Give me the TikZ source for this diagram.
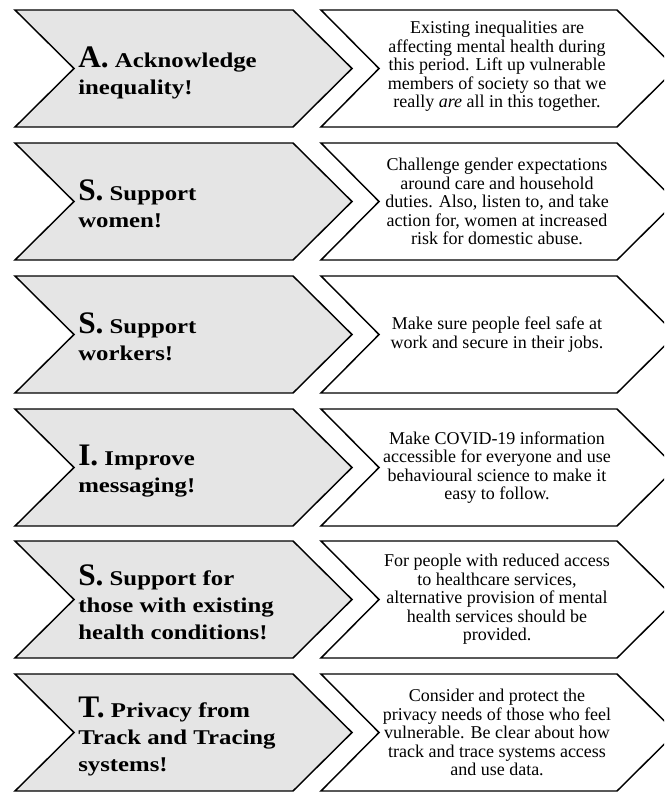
\documentclass[tikz,border=0pt]{standalone}
\usepackage{fontspec}
\setmainfont{Liberation Serif}
\newfontfamily\leftfont[FakeStretch=1.18]{Liberation Serif}
\newfontfamily\inifont{Liberation Serif}
\newcommand\bigini[1]{{\inifont\bfseries\fontsize{23.5}{20.25}\selectfont #1}}
\tikzset{
  greychev/.style={draw=black, line width=1.1pt, fill=gray!20, line join=miter},
  whitechev/.style={draw=black, line width=1.1pt, fill=white, line join=miter},
  lefttext/.style={anchor=base west, align=left, inner sep=0pt,
    font=\leftfont\bfseries\fontsize{15.75}{20.25}\selectfont},
  righttext/.style={anchor=center, align=center, inner sep=0pt,
    font=\fontsize{13.5}{13.9}\selectfont}
}
\newcommand\chevrow[2]{%
  \path[greychev] (15,#1) -- (293,#1) -- (352,#1+58.5) -- (293,#1+117) -- (15,#1+117) -- (74,#1+58.5) -- cycle;
  \path[whitechev] (321,#1) -- (617,#1) -- (676,#1+58.5) -- (617,#1+117) -- (321,#1+117) -- (379,#1+58.5) -- cycle;
  \coordinate (#2) at (497,#1+58.5);
}
\begin{document}
\begin{tikzpicture}[x=0.75pt,y=-0.75pt]
\useasboundingbox (0,0) rectangle (664,792);
\clip (0,0) rectangle (664,792);
\chevrow{10}{c1}
\chevrow{143}{c2}
\chevrow{276}{c3}
\chevrow{409}{c4}
\chevrow{541}{c5}
\chevrow{674}{c6}

% anchors sit on the baseline of the last line
\node[lefttext] (l1) at (78,94) {\bigini{A.} Acknowledge\\inequality!};
\node[lefttext] (l2) at (78,227) {\bigini{S.} Support\\women!};
\node[lefttext] (l3) at (78,360) {\bigini{S.} Support\\workers!};
\node[lefttext] (l4) at (78,492) {\bigini{I.} Improve\\messaging!};
\node[lefttext] (l5) at (78,639) {\bigini{S.} Support for\\those with existing\\health conditions!};
\node[lefttext] (l6) at (78,771) {\bigini{T.} Privacy from\\Track and Tracing\\systems!};

\node[righttext] (r1) at ([yshift=1.5pt]c1) {Existing inequalities are\\affecting mental health during\\this period. Lift up vulnerable\\members of society so that we\\really \textit{are} all in this together.};
\node[righttext] (r2) at (c2) {Challenge gender expectations\\around care and household\\duties. Also, listen to, and take\\action for, women at increased\\risk for domestic abuse.};
\node[righttext] (r3) at (c3) {Make sure people feel safe at\\work and secure in their jobs.};
\node[righttext] (r4) at (c4) {Make COVID-19 information\\accessible for everyone and use\\behavioural science to make it\\easy to follow.};
\node[righttext] (r5) at (c5) {For people with reduced access\\to healthcare services,\\alternative provision of mental\\health services should be\\provided.};
\node[righttext] (r6) at (c6) {Consider and protect the\\privacy needs of those who feel\\vulnerable. Be clear about how\\track and trace systems access\\and use data.};
\end{tikzpicture}
\end{document}
